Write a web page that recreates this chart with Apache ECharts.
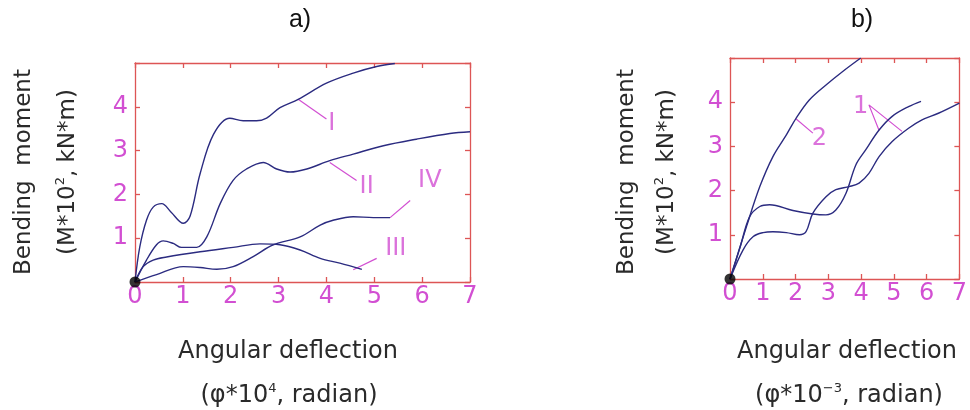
<!DOCTYPE html>
<html>
<head>
<meta charset="utf-8">
<script src="https://cdn.jsdelivr.net/npm/echarts@6/dist/echarts.min.js"></script>
<style>
  html, body { margin: 0; padding: 0; background: #fff; }
  #chart { width: 970px; height: 410px; }
</style>
</head>
<body>
<div id="chart"></div>
<script>
// x / y ticks shared by both panels
var xTicks = [0, 1, 2, 3, 4, 5, 6, 7];
var yTickLabels = [1, 2, 3, 4];

// panel a) curves [deflection, moment]
var curveI = [[0, 0], [0.1, 0.8], [0.24, 1.41], [0.38, 1.71], [0.56, 1.79], [0.75, 1.6], [1.01, 1.34], [1.15, 1.5], [1.36, 2.47], [1.64, 3.37], [1.98, 3.74], [2.26, 3.68], [2.54, 3.68], [2.75, 3.74], [3.03, 3.98], [3.41, 4.17], [4.0, 4.54], [4.56, 4.77], [5.05, 4.92], [5.43, 4.99]];
var curveII = [[0, 0], [0.24, 0.5], [0.45, 0.85], [0.59, 0.94], [0.8, 0.88], [0.97, 0.79], [1.29, 0.79], [1.5, 1.03], [1.78, 1.79], [2.05, 2.32], [2.33, 2.58], [2.68, 2.73], [2.96, 2.58], [3.24, 2.51], [3.59, 2.58], [4.07, 2.77], [4.56, 2.92], [5.19, 3.11], [5.88, 3.26], [6.58, 3.39], [7.0, 3.43]];
var curveIII = [[0, 0], [0.17, 0.35], [0.38, 0.5], [0.66, 0.57], [1.36, 0.69], [2.05, 0.79], [2.61, 0.87], [3.03, 0.85], [3.45, 0.73], [3.87, 0.54], [4.28, 0.43], [4.74, 0.29]];
var curveIV = [[0, 0], [0.45, 0.17], [1.01, 0.35], [1.36, 0.33], [1.71, 0.29], [2.05, 0.35], [2.47, 0.58], [2.89, 0.85], [3.45, 1.03], [3.87, 1.3], [4.14, 1.41], [4.56, 1.49], [4.98, 1.47], [5.33, 1.47]];

// panel b) curves
var curve2 = [[0, 0], [0.5, 1.18], [0.91, 2.09], [1.31, 2.77], [1.72, 3.26], [2.02, 3.64], [2.42, 4.05], [2.93, 4.39], [3.43, 4.69], [3.99, 5.0]];
var curve1a = [[0, 0], [0.3, 0.7], [0.6, 1.41], [0.91, 1.64], [1.21, 1.68], [1.92, 1.55], [2.53, 1.47], [2.93, 1.45], [3.23, 1.56], [3.54, 1.94], [3.84, 2.58], [4.14, 2.92], [4.55, 3.37], [4.95, 3.68], [5.45, 3.9], [5.83, 4.02]];
var curve1b = [[0, 0], [0.4, 0.66], [0.71, 0.96], [1.01, 1.05], [1.31, 1.07], [1.72, 1.05], [2.12, 1.0], [2.32, 1.07], [2.53, 1.49], [2.93, 1.86], [3.23, 2.02], [3.64, 2.09], [3.94, 2.17], [4.24, 2.39], [4.55, 2.77], [4.95, 3.11], [5.45, 3.41], [5.86, 3.6], [6.36, 3.75], [7.0, 3.98]];

// curve labels and leader lines
var namesA = ['I', 'II', 'III', 'IV'];
var labelPosA = [[4.11, 3.62], [4.84, 2.17], [5.45, 0.75], [6.16, 2.3]];
var leadersA = [
  [[3.41, 4.17], [4.0, 3.72]],
  [[4.07, 2.73], [4.63, 2.32]],
  [[4.56, 0.28], [5.05, 0.54]],
  [[5.33, 1.47], [5.75, 1.86]]
];
var namesB = ['2', '1'];
var labelPosB = [[2.73, 3.18], [3.99, 3.9]];
var leadersB = [
  [[2.02, 3.62], [2.53, 3.3]],
  [[4.55, 3.36], [4.24, 3.94], [5.25, 3.34]]
];

var chart = echarts.init(document.getElementById('chart'));

var FRAME = '#dd5555';
var PINK = '#d24fd2';
var LINE = '#2b2b80';
var FONT = 'DejaVu Sans';

var grids = [
  { left: 135, top: 63, width: 335, height: 219 },
  { left: 730, top: 58, width: 231, height: 221 }
];

var xAxes = [], yAxes = [];
grids.forEach(function (g, i) {
  //底部x轴
  xAxes.push({
    type: 'value', gridIndex: i, min: 0, max: 7, interval: 1, position: 'bottom',
    axisLine: { onZero: false, lineStyle: { color: FRAME, width: 1.3 } },
    axisTick: { inside: true, length: 5, lineStyle: { color: FRAME, width: 1.3 } },
    axisLabel: { color: PINK, fontSize: 24, fontFamily: FONT, margin: 3 },
    splitLine: { show: false }
  });
  //顶部x轴，只要刻度
  xAxes.push({
    type: 'value', gridIndex: i, min: 0, max: 7, interval: 1, position: 'top',
    axisLine: { onZero: false, lineStyle: { color: FRAME, width: 1.3 } },
    axisTick: { inside: true, length: 5, lineStyle: { color: FRAME, width: 1.3 } },
    axisLabel: { show: false },
    splitLine: { show: false }
  });
  yAxes.push({
    type: 'value', gridIndex: i, min: 0, max: 5, interval: 1, position: 'left',
    axisLine: { show: true, onZero: false, lineStyle: { color: FRAME, width: 1.3 } },
    axisTick: { show: true, inside: true, length: 5, lineStyle: { color: FRAME, width: 1.3 } },
    axisLabel: {
      color: PINK, fontSize: 24, fontFamily: FONT, margin: 7,
      formatter: function (v) { return yTickLabels.indexOf(v) >= 0 ? String(v) : ''; }
    },
    splitLine: { show: false }
  });
  //右侧y轴，只要刻度
  yAxes.push({
    type: 'value', gridIndex: i, min: 0, max: 5, interval: 1, position: 'right',
    axisLine: { show: true, onZero: false, lineStyle: { color: FRAME, width: 1.3 } },
    axisTick: { show: true, inside: true, length: 5, lineStyle: { color: FRAME, width: 1.3 } },
    axisLabel: { show: false },
    splitLine: { show: false }
  });
});

function curve(data, panel) {
  return {
    type: 'line', data: data, xAxisIndex: panel * 2, yAxisIndex: panel * 2,
    symbol: 'none', smooth: 0.35, silent: true,
    lineStyle: { color: LINE, width: 1.4 }, z: 3
  };
}
function leader(data, panel) {
  return {
    type: 'line', data: data, xAxisIndex: panel * 2, yAxisIndex: panel * 2,
    symbol: 'none', silent: true,
    lineStyle: { color: PINK, width: 1.2 }, z: 2
  };
}
function tags(names, pos, panel) {
  return {
    type: 'scatter', xAxisIndex: panel * 2, yAxisIndex: panel * 2, symbolSize: 0, silent: true,
    data: names.map(function (n, k) { return { name: n, value: pos[k] }; }),
    label: { show: true, position: 'inside', formatter: '{b}', color: PINK, fontSize: 24, fontFamily: FONT }
  };
}
function origin(panel) {
  return {
    type: 'scatter', xAxisIndex: panel * 2, yAxisIndex: panel * 2, data: [[xTicks[0], 0]],
    symbolSize: 11, itemStyle: { color: '#000' }, clip: false, silent: true, z: 10
  };
}

var series = [
  curve(curveI, 0), curve(curveII, 0), curve(curveIII, 0), curve(curveIV, 0),
  curve(curve2, 1), curve(curve1a, 1), curve(curve1b, 1),
  tags(namesA, labelPosA, 0), tags(namesB, labelPosB, 1),
  origin(0), origin(1)
];
leadersA.forEach(function (d) { series.push(leader(d, 0)); });
leadersB.forEach(function (d) { series.push(leader(d, 1)); });

var nameStyle = { fill: '#2a2a2a', fontSize: 23, fontFamily: FONT, align: 'center', verticalAlign: 'middle' };
var rich = { sup: { fontSize: 13, fontFamily: FONT, fill: '#2a2a2a', verticalAlign: 'top', padding: [0, 0, 14, 0] } };
function txt(x, y, text, rot, extra) {
  return {
    type: 'text', x: x, y: y, rotation: rot || 0, silent: true,
    style: Object.assign({ text: text, rich: rich }, nameStyle, extra || {})
  };
}

var option = {
  animation: false,
  grid: grids,
  xAxis: xAxes,
  yAxis: yAxes,
  series: series,
  graphic: [
    txt(300, 20, 'a)', 0, { fill: '#111', fontFamily: 'Liberation Sans', fontSize: 25 }),
    txt(862, 20, 'b)', 0, { fill: '#111', fontFamily: 'Liberation Sans', fontSize: 25 }),
    txt(24, 172, 'Bending  moment', Math.PI / 2),
    txt(68, 172, '(M*10{sup|2}, kN*m)', Math.PI / 2),
    txt(627, 172, 'Bending  moment', Math.PI / 2),
    txt(667, 172, '(M*10{sup|2}, kN*m)', Math.PI / 2),
    txt(288, 352, 'Angular deflection', 0, { fontSize: 24 }),
    txt(289, 396, '(\u03c6*10{sup|4}, radian)', 0, { fontSize: 24 }),
    txt(847, 352, 'Angular deflection', 0, { fontSize: 24 }),
    txt(849, 396, '(\u03c6*10{sup|\u22123}, radian)', 0, { fontSize: 24 })
  ]
};

chart.setOption(option);
</script>
</body>
</html>
